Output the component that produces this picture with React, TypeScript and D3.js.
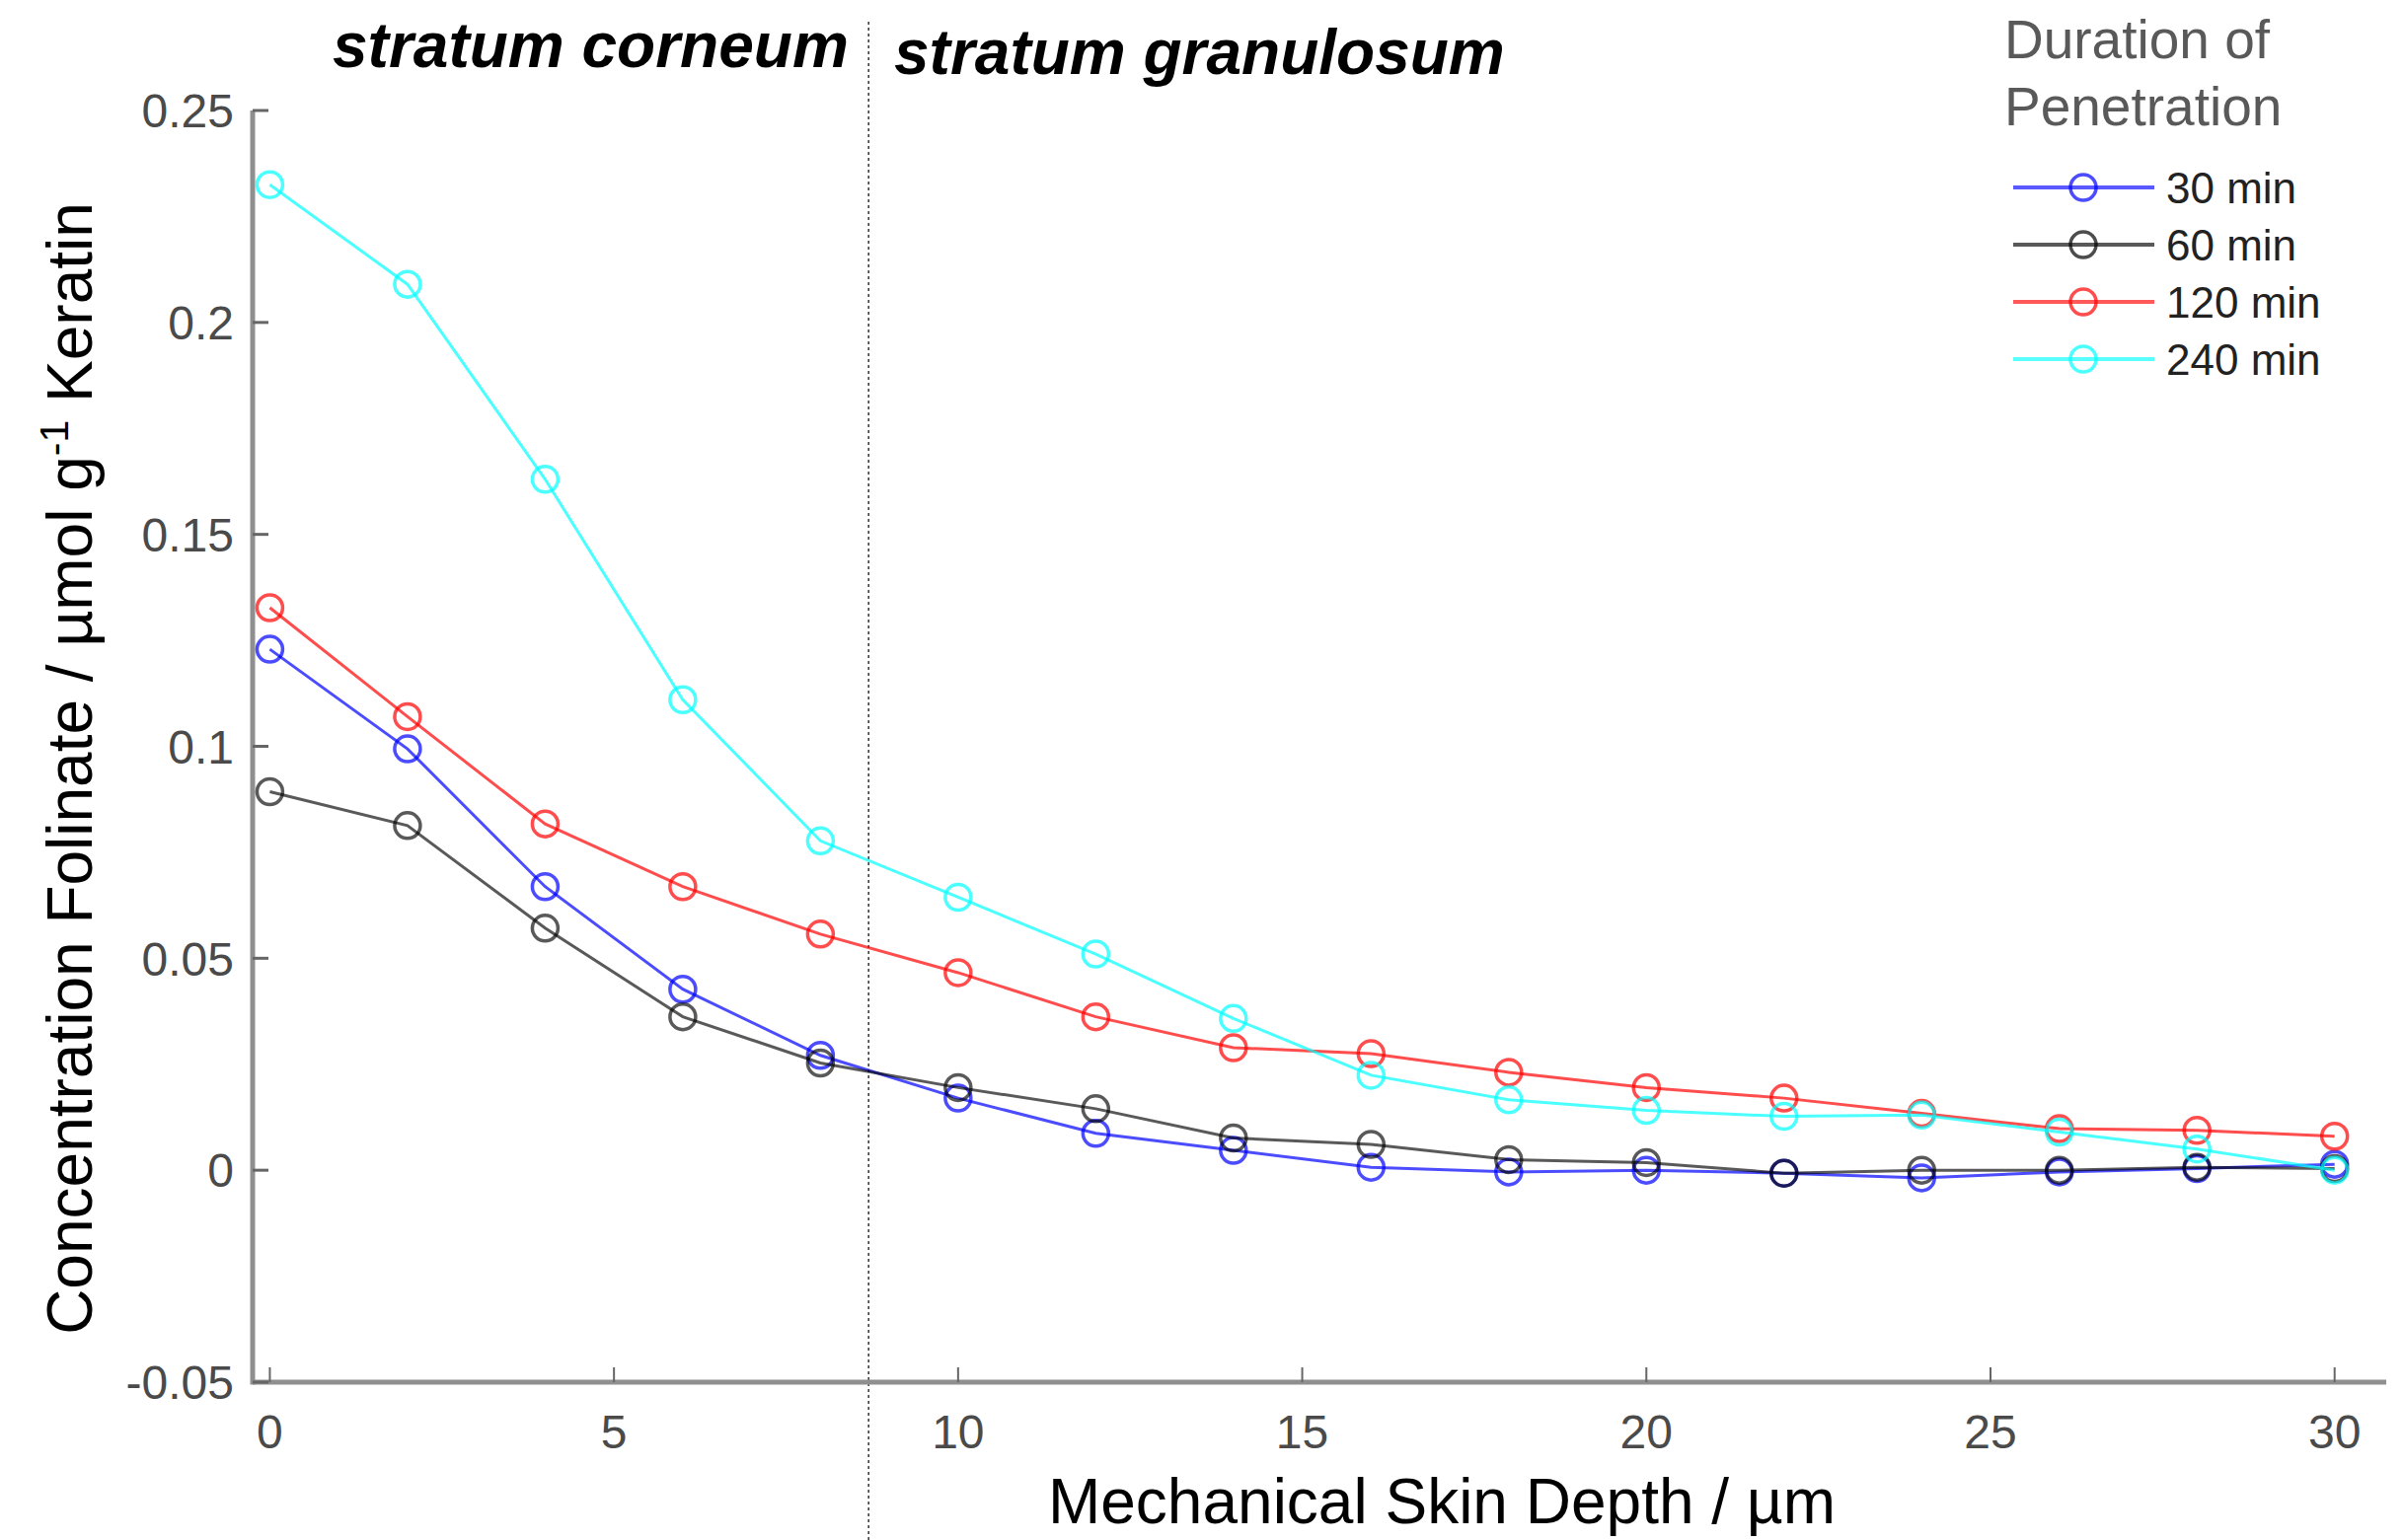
import React, { useRef, useEffect } from 'react';
import * as d3 from 'd3';

// depth in µm
const depths = [0, 2, 4, 6, 8, 10, 12, 14, 16, 18, 20, 22, 24, 26, 28, 30];

// concentration folinate per duration
const conc30 = [0.1229, 0.0994, 0.0669, 0.0427, 0.0271, 0.017, 0.0087, 0.0047, 0.0007, -0.0004, 0.0, -0.0007, -0.0018, -0.0004, 0.0004, 0.0014];
const conc60 = [0.0893, 0.0813, 0.0571, 0.0362, 0.0253, 0.0195, 0.0145, 0.0076, 0.0061, 0.0025, 0.0018, -0.0007, 0.0, 0.0, 0.0007, 0.0004];
const conc120 = [0.1327, 0.107, 0.0817, 0.0669, 0.0557, 0.0466, 0.0362, 0.0289, 0.0275, 0.0231, 0.0195, 0.017, 0.0134, 0.0098, 0.0094, 0.008];
const conc240 = [0.2325, 0.209, 0.163, 0.111, 0.0777, 0.0644, 0.051, 0.0358, 0.0224, 0.0166, 0.0141, 0.0127, 0.013, 0.009, 0.005, 0.0];

const seriesNames = ['30 min', '60 min', '120 min', '240 min'];
const seriesColors = ['#0000ff', '#000000', '#ff0000', '#00ffff'];

const xTicks = [0, 5, 10, 15, 20, 25, 30];
const yTicks = [-0.05, 0, 0.05, 0.1, 0.15, 0.2, 0.25];
const yTickLabels = ['-0.05', '0', '0.05', '0.1', '0.15', '0.2', '0.25'];

const layerBoundary = 8.7;
const layerNames = ['stratum corneum', 'stratum granulosum'];

const FONT = 'Liberation Sans, Arial, sans-serif';

const App = () => {
  const svgRef = useRef(null);

  useEffect(() => {
    const width = 2436;
    const height = 1561;
    const svg = d3.select(svgRef.current);
    svg.selectAll('*').remove();
    svg.attr('width', width).attr('height', height).style('font-family', FONT);

    svg.append('rect').attr('width', width).attr('height', height).attr('fill', '#fff');

    const x = d3.scaleLinear().domain([-0.25, 30.75]).range([256, 2418]);
    const y = d3.scaleLinear().domain([-0.05, 0.25]).range([1401, 112]);

    const series = [conc30, conc60, conc120, conc240];

    // boundary between layers
    svg.append('line')
      .attr('x1', x(layerBoundary)).attr('x2', x(layerBoundary))
      .attr('y1', 22).attr('y2', height)
      .attr('stroke', '#333')
      .attr('stroke-width', 1.5)
      .attr('stroke-dasharray', '3,3');

    // axes
    const axisColor = '#8f8f8f';
    svg.append('line')
      .attr('x1', x.range()[0]).attr('x2', x.range()[1])
      .attr('y1', y(-0.05)).attr('y2', y(-0.05))
      .attr('stroke', axisColor).attr('stroke-width', 5);
    svg.append('line')
      .attr('x1', x.range()[0]).attr('x2', x.range()[0])
      .attr('y1', y(0.25)).attr('y2', y(-0.05) + 2.5)
      .attr('stroke', axisColor).attr('stroke-width', 5);

    svg.append('g').selectAll('line')
      .data(xTicks)
      .join('line')
      .attr('x1', d => x(d)).attr('x2', d => x(d))
      .attr('y1', y(-0.05)).attr('y2', y(-0.05) - 15)
      .attr('stroke', '#666').attr('stroke-width', 2);

    svg.append('g').selectAll('line')
      .data(yTicks)
      .join('line')
      .attr('x1', x.range()[0]).attr('x2', x.range()[0] + 16)
      .attr('y1', d => y(d)).attr('y2', d => y(d))
      .attr('stroke', '#666').attr('stroke-width', 3);

    svg.append('g').selectAll('text')
      .data(xTicks)
      .join('text')
      .attr('x', d => x(d))
      .attr('y', 1468)
      .attr('text-anchor', 'middle')
      .attr('fill', '#4a4a4a')
      .style('font-size', '48px')
      .text(d => d);

    svg.append('g').selectAll('text')
      .data(yTicks)
      .join('text')
      .attr('x', 237)
      .attr('y', d => y(d))
      .attr('dy', '0.36em')
      .attr('text-anchor', 'end')
      .attr('fill', '#4a4a4a')
      .style('font-size', '48px')
      .text((d, i) => yTickLabels[i]);

    // axis titles
    svg.append('text')
      .attr('x', 1461).attr('y', 1544)
      .attr('text-anchor', 'middle')
      .attr('fill', '#000')
      .style('font-size', '64px')
      .text('Mechanical Skin Depth / µm');

    const yTitle = svg.append('text')
      .attr('transform', 'translate(93,779) rotate(-90)')
      .attr('text-anchor', 'middle')
      .attr('fill', '#000')
      .style('font-size', '64px');
    yTitle.append('tspan').text('Concentration Folinate / µmol g');
    yTitle.append('tspan').attr('dy', -24).style('font-size', '41px').text('-1');
    yTitle.append('tspan').attr('dy', 24).text(' Keratin');

    // layer names
    svg.append('text')
      .attr('x', 337).attr('y', 68)
      .attr('font-weight', 'bold').attr('font-style', 'italic')
      .style('font-size', '64px')
      .text(layerNames[0]);
    svg.append('text')
      .attr('x', 906).attr('y', 75)
      .attr('font-weight', 'bold').attr('font-style', 'italic')
      .style('font-size', '64px')
      .text(layerNames[1]);

    // data lines + markers
    const line = d3.line<number>()
      .x((d, i) => x(depths[i]))
      .y(d => y(d));

    series.forEach((vals, si) => {
      const g = svg.append('g')
        .attr('stroke', seriesColors[si])
        .attr('stroke-opacity', si === 1 ? 0.65 : 0.7)
        .attr('fill', 'none');
      g.append('path')
        .attr('d', line(vals))
        .attr('stroke-width', 3);
      g.selectAll('circle')
        .data(vals)
        .join('circle')
        .attr('cx', (d, i) => x(depths[i]))
        .attr('cy', d => y(d))
        .attr('r', 13)
        .attr('stroke-width', 3.5);
    });

    // legend
    svg.append('text')
      .attr('x', 2031).attr('y', 59)
      .attr('fill', '#595959')
      .style('font-size', '55px')
      .text('Duration of');
    svg.append('text')
      .attr('x', 2031).attr('y', 127)
      .attr('fill', '#595959')
      .style('font-size', '55px')
      .text('Penetration');

    const legY = d3.scalePoint().domain(seriesNames).range([190, 364]);
    const leg = svg.append('g').selectAll('g')
      .data(seriesNames)
      .join('g')
      .attr('transform', d => `translate(0,${legY(d)})`);
    leg.append('line')
      .attr('x1', 2040).attr('x2', 2183)
      .attr('stroke', (d, i) => seriesColors[i])
      .attr('stroke-opacity', 0.65)
      .attr('stroke-width', 4);
    leg.append('circle')
      .attr('cx', 2111).attr('r', 13)
      .attr('fill', 'none')
      .attr('stroke', (d, i) => seriesColors[i])
      .attr('stroke-opacity', 0.7)
      .attr('stroke-width', 3.5);
    leg.append('text')
      .attr('x', 2195)
      .attr('dy', '0.36em')
      .attr('fill', '#222')
      .style('font-size', '44px')
      .text(d => d);
  }, []);

  return (
    <svg ref={svgRef} style={{ position: 'absolute', left: 0, top: 0, display: 'block' }} />
  );
};

export default App;
